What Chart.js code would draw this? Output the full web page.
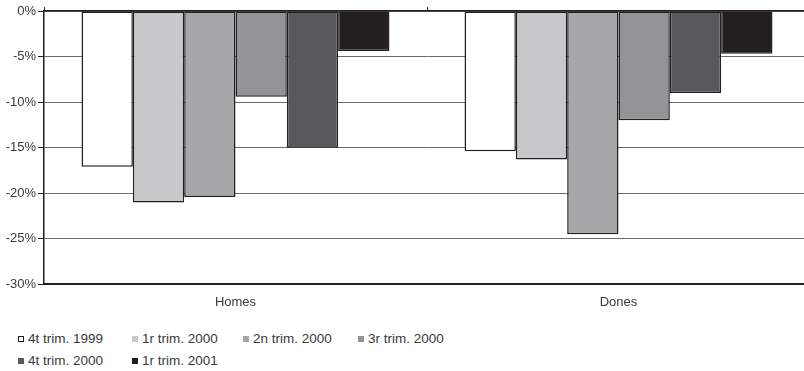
<!DOCTYPE html>
<html lang="ca">
<head>
    <meta charset="UTF-8">
    <title>Variació per trimestre</title>
    <script src="https://cdn.jsdelivr.net/npm/chart.js"></script>
    <style>
        html, body {
            margin: 0;
            padding: 0;
            background: #ffffff;
            overflow: hidden;
        }
        #wrap {
            position: relative;
            width: 804px;
            height: 371px;
            overflow: hidden;
        }
        #chartBox {
            position: absolute;
            left: 0;
            top: 0;
            width: 810px;
            height: 322px;
        }
        .legend-item {
            position: absolute;
            font-family: "Liberation Sans", Arial, sans-serif;
            font-size: 13.5px;
            color: #3a3a3a;
            line-height: 16px;
            white-space: nowrap;
        }
        .legend-box {
            position: absolute;
            width: 6px;
            height: 6px;
            box-sizing: border-box;
        }
    </style>
</head>
<body>
    <div id="wrap">
        <div id="chartBox"><canvas id="chart"></canvas></div>
        <div id="legend"></div>
    </div>

    <script>
        // data (percent change)
        const categories = ['Homes', 'Dones'];
        const seriesNames = ['4t trim. 1999', '1r trim. 2000', '2n trim. 2000', '3r trim. 2000', '4t trim. 2000', '1r trim. 2001'];
        const q4_1999 = [-17.1, -15.4];
        const q1_2000 = [-21.0, -16.3];
        const q2_2000 = [-20.4, -24.5];
        const q3_2000 = [-9.4, -12.0];
        const q4_2000 = [-15.0, -9.0];
        const q1_2001 = [-4.4, -4.7];
        const yTicks = [0, -5, -10, -15, -20, -25, -30];

        const seriesValues = [q4_1999, q1_2000, q2_2000, q3_2000, q4_2000, q1_2001];
        const fills = ['#ffffff', '#c8c9cb', '#a6a7a9', '#939496', '#58595b', '#231f20'];
        const edge = '#231f20';
        const textColor = '#3a3a3a';
        const font = { family: '"Liberation Sans", Arial, sans-serif', size: 13 };

        const datasets = seriesNames.map((name, i) => ({
            label: name,
            data: seriesValues[i],
            backgroundColor: fills[i],
            borderColor: edge,
            borderWidth: 1.5,
            borderSkipped: false,
            categoryPercentage: 0.804,
            barPercentage: 1
        }));

        const chart = new Chart(document.getElementById('chart'), {
            type: 'bar',
            data: { labels: categories, datasets: datasets },
            options: {
                responsive: true,
                maintainAspectRatio: false,
                animation: false,
                layout: { padding: { top: 7, left: 0, right: 0, bottom: 2 } },
                plugins: {
                    legend: { display: false },
                    tooltip: { enabled: false }
                },
                scales: {
                    x: {
                        position: 'bottom',
                        grid: { display: false, drawTicks: false },
                        border: { display: true, color: edge, width: 2 },
                        ticks: { color: textColor, font: font, padding: 10 }
                    },
                    x2: {
                        position: 'top',
                        labels: categories,
                        offset: true,
                        grid: { display: true, offset: true, drawOnChartArea: false, tickLength: 4, color: edge, lineWidth: 1 },
                        border: { display: true, color: edge, width: 1.5 },
                        ticks: { display: false }
                    },
                    y: {
                        min: -30,
                        max: 0,
                        afterBuildTicks: (scale) => {
                            scale.ticks = yTicks.map(v => ({ value: v }));
                        },
                        afterFit: (scale) => {
                            scale.width = 44;
                        },
                        grid: { color: '#6b6b6b', lineWidth: 1, tickLength: 6, tickColor: edge },
                        border: { display: true, color: edge, width: 1.5 },
                        ticks: {
                            color: textColor,
                            font: font,
                            padding: 2,
                            callback: (v) => v + '%'
                        }
                    }
                }
            }
        });

        // legend in two rows like the original
        const legendX = [18, 132, 243, 358];
        const legendY = [331, 353];
        const legend = document.getElementById('legend');
        chart.data.datasets.forEach((ds, i) => {
            const item = document.createElement('div');
            item.className = 'legend-item';
            item.style.left = (legendX[i % 4] + 10) + 'px';
            item.style.top = legendY[Math.floor(i / 4)] + 'px';
            item.textContent = ds.label;
            const box = document.createElement('div');
            box.className = 'legend-box';
            box.style.left = legendX[i % 4] + 'px';
            box.style.top = (legendY[Math.floor(i / 4)] + 5) + 'px';
            box.style.background = ds.backgroundColor;
            if (i === 0) box.style.border = '1.5px solid ' + edge;
            legend.appendChild(box);
            legend.appendChild(item);
        });
    </script>
</body>
</html>
